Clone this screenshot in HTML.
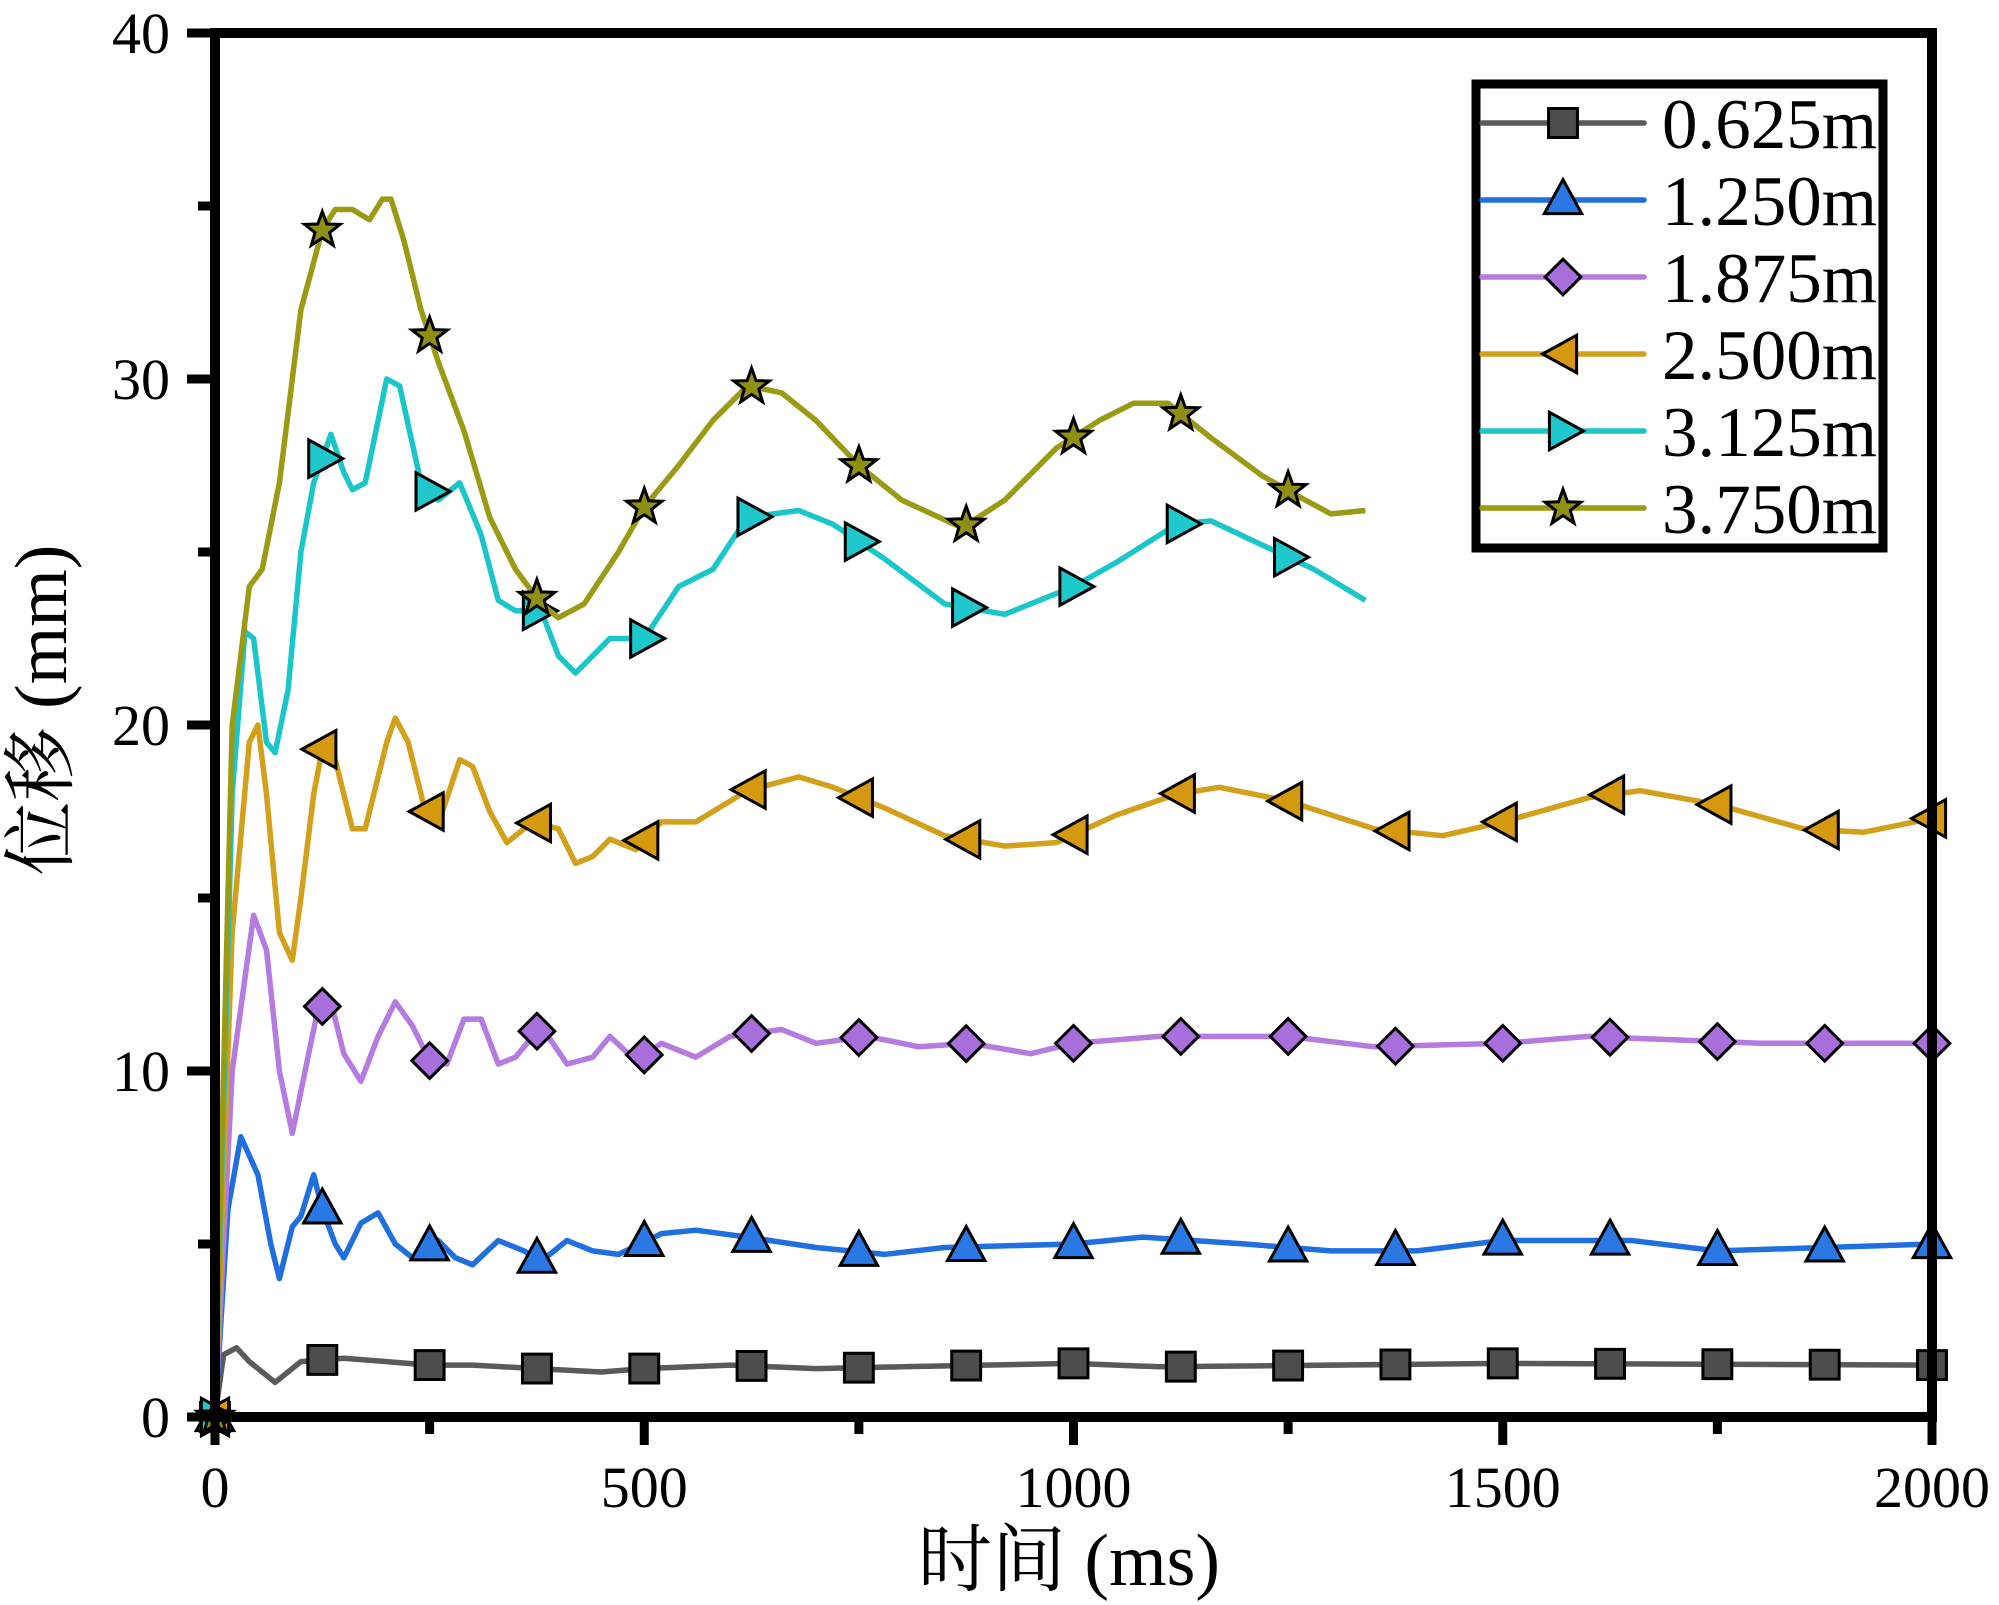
<!DOCTYPE html>
<html><head><meta charset="utf-8"><style>
html,body{margin:0;padding:0;background:#fff}
svg{display:block}
text{font-family:"Liberation Serif","Noto Serif CJK SC",serif;fill:#000}
</style></head><body>
<svg id="chart" width="1999" height="1605" viewBox="0 0 1999 1605">
<g id="plot"></g>
<g id="axes"></g>
<g id="legend"></g>
<text x="1069" y="1585" font-size="74" text-anchor="middle">时间 (ms)</text>
<text transform="translate(66,710) rotate(-90)" font-size="74" text-anchor="middle">位移 (mm)</text>
</svg>
<script>
const seriesNames = ["0.625m","1.250m","1.875m","2.500m","3.125m","3.750m"];
const t0625 = [0,10,25,40,70,100,150,200,250,300,375,450,500,600,700,800,1000,1100,1500,2000];
const v0625 = [0,1.8,2.0,1.6,1.0,1.6,1.7,1.6,1.5,1.5,1.4,1.3,1.4,1.5,1.4,1.45,1.55,1.45,1.55,1.5];
const t1250 = [0,15,30,50,65,75,90,100,115,125,140,150,170,190,210,230,260,280,300,330,360,380,410,440,470,520,560,620,700,780,850,1000,1080,1200,1300,1400,1500,1650,1750,2000];
const v1250 = [0,6,8.1,7,5,4.0,5.5,5.8,7.0,6.0,5.0,4.6,5.6,5.9,5.0,4.6,5.1,4.6,4.4,5.1,4.8,4.5,5.1,4.8,4.7,5.3,5.4,5.2,4.9,4.7,4.9,5.0,5.2,5.0,4.8,4.8,5.1,5.1,4.8,5.0];
const t1875 = [0,20,45,60,75,90,105,120,135,150,170,190,210,230,250,270,290,310,330,350,380,410,440,460,490,520,560,600,660,700,760,820,880,950,1000,1100,1250,1350,1500,1600,1800,2000];
const v1875 = [0,10,14.5,13.5,10,8.2,10,11.8,12,10.5,9.7,11,12,11.3,10.3,10.2,11.5,11.5,10.2,10.4,11.3,10.2,10.4,11,10.3,10.8,10.4,11,11.2,10.8,11,10.7,10.8,10.5,10.8,11,11,10.7,10.8,11.0,10.8,10.8];
const t2500 = [0,20,40,50,60,75,90,100,115,125,140,160,175,200,210,225,245,265,285,300,320,340,370,400,420,440,460,490,520,560,620,680,720,780,850,920,980,1050,1120,1170,1250,1350,1430,1500,1600,1660,1750,1850,1920,2000];
const v2500 = [0,14,19.5,20,18,14,13.2,15,18,19.3,19,17,17,19.5,20.2,19.5,17.5,17.5,19,18.8,17.5,16.6,17.2,17,16,16.2,16.7,16.4,17.2,17.2,18.1,18.5,18.2,17.6,16.8,16.5,16.6,17.4,18,18.2,17.8,17,16.8,17.2,17.9,18.1,17.7,17,16.9,17.3];
const t3125 = [0,20,35,45,60,70,85,100,115,135,150,160,175,200,215,240,260,285,310,330,350,380,400,420,440,460,500,540,580,620,680,720,780,850,920,1000,1050,1120,1160,1220,1280,1340];
const v3125 = [0,18,22.7,22.5,19.5,19.2,21,25,27,28.4,27.3,26.8,27,30,29.8,27,26.5,27,25.5,23.6,23.3,23.3,22,21.5,22,22.5,22.5,24,24.5,26,26.2,25.8,24.8,23.5,23.2,24,24.7,25.8,25.9,25.2,24.5,23.6];
const t3750 = [0,20,40,55,75,100,125,140,160,180,195,205,220,240,260,290,320,350,380,400,430,470,500,540,580,620,660,700,750,800,870,920,980,1030,1070,1110,1160,1220,1270,1300,1340];
const v3750 = [0,20,24,24.5,27,32,34.3,34.9,34.9,34.6,35.2,35.2,34,32,30.5,28.5,26,24.5,23.5,23.1,23.5,25,26.3,27.5,28.8,29.8,29.6,28.8,27.5,26.5,25.7,26.5,28,28.8,29.3,29.3,28.3,27.2,26.5,26.1,26.2];
const xTicks = [0,500,1000,1500,2000];
const yTicks = [0,10,20,30,40];
const markerStep = 125;

const NS="http://www.w3.org/2000/svg";
const X0=215,X1=1932,Y0=1417,Y1=33;
function sx(t){return X0+(X1-X0)*t/2000;}
function sy(v){return Y0-(Y0-Y1)*v/40;}
function mk(tag,attrs,parent){const e=document.createElementNS(NS,tag);for(const k in attrs)e.setAttribute(k,attrs[k]);parent.appendChild(e);return e;}
function interp(ts,vs,t){for(let i=1;i<ts.length;i++){if(t<=ts[i]){const f=(t-ts[i-1])/(ts[i]-ts[i-1]);return vs[i-1]+f*(vs[i]-vs[i-1]);}}return vs[vs.length-1];}
const lineCol=["#5a5a5a","#1f6fe0","#b57be0","#d2a01a","#1ac6c9","#9a9a14"];
const fillCol=["#4d4d4d","#2a78e4","#a86fdc","#d4990f","#1ec8cc","#8f8f12"];
const shapes=["square","up","diamond","left","right","star"];
function markerPath(s,x,y,r){
 if(s==="square")return `M${x-r*0.85},${y-r*0.85}h${r*1.7}v${r*1.7}h${-r*1.7}z`;
 if(s==="up")return `M${x},${y-r*1.2}L${x+r*1.1},${y+r*0.8}L${x-r*1.1},${y+r*0.8}z`;
 if(s==="diamond")return `M${x},${y-r*1.05}L${x+r*1.05},${y}L${x},${y+r*1.05}L${x-r*1.05},${y}z`;
 if(s==="left")return `M${x-r*1.2},${y}L${x+r*0.8},${y-r*1.1}L${x+r*0.8},${y+r*1.1}z`;
 if(s==="right")return `M${x+r*1.2},${y}L${x-r*0.8},${y-r*1.1}L${x-r*0.8},${y+r*1.1}z`;
 let d="";for(let i=0;i<10;i++){const a=-Math.PI/2+i*Math.PI/5;const rr=i%2?r*0.45:r*1.1;d+=(i?"L":"M")+(x+rr*Math.cos(a)).toFixed(1)+","+(y+rr*Math.sin(a)).toFixed(1);}return d+"z";
}
const plot=document.getElementById("plot");
const allT=[t0625,t1250,t1875,t2500,t3125,t3750];
const allV=[v0625,v1250,v1875,v2500,v3125,v3750];
for(let s=0;s<6;s++){
 const g=mk("g",{},plot);
 
 
 const ts=allT[s],vs=allV[s];
 const d=ts.map((t,i)=>(i?"L":"M")+sx(t).toFixed(1)+","+sy(vs[i]).toFixed(1)).join("");
 const p=mk("path",{d:d,fill:"none",stroke:lineCol[s],"stroke-width":5.5,"stroke-linejoin":"round"},g);
 
 
 const tEnd=ts[ts.length-1];
 for(let t=0;t<=tEnd+1;t+=markerStep){
  const m=mk("path",{d:markerPath(shapes[s],sx(t),sy(interp(ts,vs,t)),17),fill:fillCol[s],stroke:"#000","stroke-width":3,"stroke-linejoin":"miter"},g);
  
  
 }
}
const axes=document.getElementById("axes");
const frame=mk("rect",{x:X0,y:Y1,width:X1-X0,height:Y0-Y1,fill:"none",stroke:"#000","stroke-width":10},axes);


for(let v=0;v<=40;v+=5){
 const major=v%10===0;
 const tk=mk("line",{x1:X0-5,x2:X0-(major?28:17),y1:sy(v),y2:sy(v),stroke:"#000","stroke-width":9},axes);
 
 
}
yTicks.forEach(v=>{const tx=mk("text",{x:170,y:sy(v)+20,"font-size":58,"text-anchor":"end"},axes);tx.textContent=v;
 
 });
for(let t=0;t<=2000;t+=250){
 const major=t%500===0;
 const tk=mk("line",{x1:sx(t),x2:sx(t),y1:Y0+5,y2:Y0+(major?28:17),stroke:"#000","stroke-width":9},axes);
 
 
}
xTicks.forEach(t=>{const tx=mk("text",{x:sx(t),y:1507,"font-size":58,"text-anchor":"middle"},axes);tx.textContent=t;
 
 });
const lg=document.getElementById("legend");
const box=mk("rect",{x:1476,y:84,width:407,height:464,fill:"#fff",stroke:"#000","stroke-width":9},lg);


for(let s=0;s<6;s++){
 const y=123+s*77;
 const e=mk("g",{},lg);
 
 
 mk("line",{x1:1482,x2:1644,y1:y,y2:y,stroke:lineCol[s],"stroke-width":5.5,"stroke-linecap":"round"},e);
 mk("path",{d:markerPath(shapes[s],1563,y,17),fill:fillCol[s],stroke:"#000","stroke-width":3},e);
 const tx=mk("text",{x:1662,y:y+25,"font-size":71},e);tx.textContent=seriesNames[s];
}
</script>
</body></html>
